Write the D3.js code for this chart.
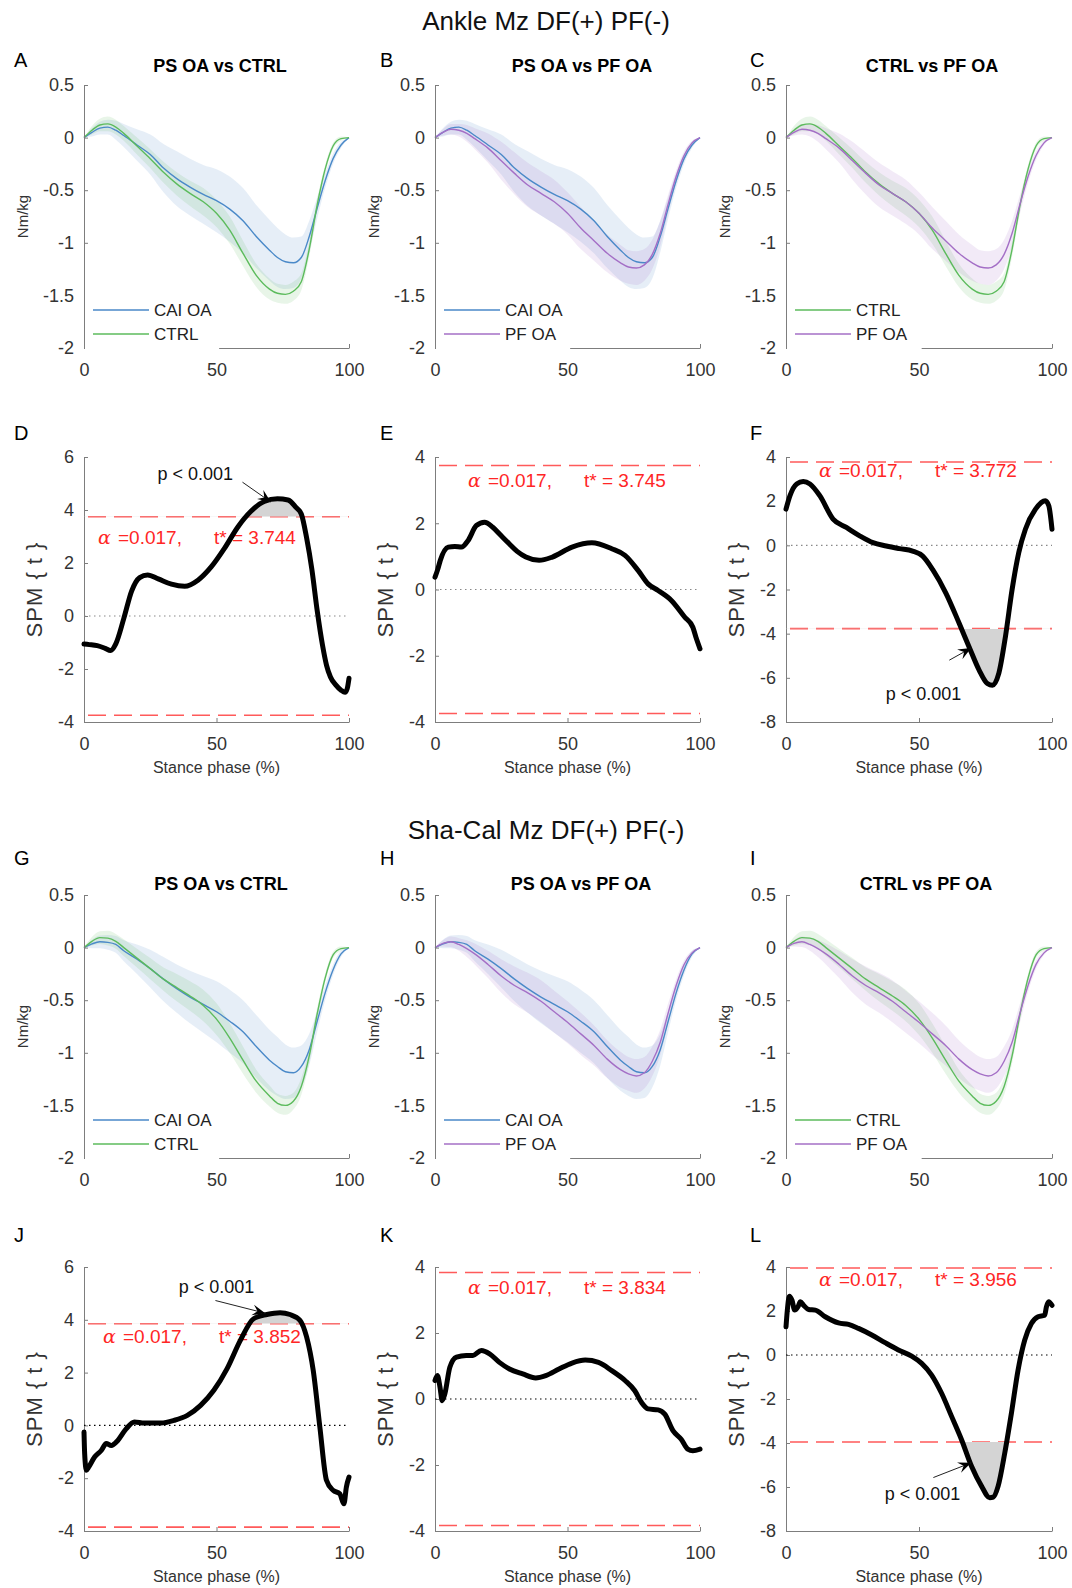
<!DOCTYPE html>
<html><head><meta charset="utf-8">
<script src="https://cdn.jsdelivr.net/npm/d3@7"></script>
<style>
body{margin:0;background:#fff}
svg{display:block}
text{font-family:"Liberation Sans",Arial,Helvetica,sans-serif}
</style>
</head><body>
<svg id="chart" width="1072" height="1588"></svg>
<script>
// ---------- DATA ----------
const sectionTitles = ["Ankle Mz DF(+) PF(-)", "Sha-Cal Mz DF(+) PF(-)"];
const phase = [0,3,6,9,12,15,20,25,30,35,40,45,50,55,60,65,70,73,76,79,82,85,88,91,94,97,100];

const ankleCAI   = [0,0.05,0.09,0.10,0.07,0.02,-0.07,-0.16,-0.29,-0.39,-0.47,-0.54,-0.60,-0.68,-0.79,-0.94,-1.07,-1.14,-1.18,-1.19,-1.14,-0.94,-0.67,-0.41,-0.20,-0.07,0];
const ankleCAIsd = [0,0.04,0.06,0.07,0.09,0.11,0.15,0.19,0.23,0.26,0.27,0.28,0.30,0.31,0.31,0.30,0.29,0.28,0.26,0.24,0.20,0.15,0.10,0.07,0.05,0.03,0];
const ankleCTRL  = [0,0.07,0.12,0.13,0.10,0.04,-0.08,-0.20,-0.33,-0.44,-0.53,-0.61,-0.72,-0.88,-1.10,-1.31,-1.44,-1.48,-1.49,-1.46,-1.37,-1.06,-0.64,-0.30,-0.08,-0.01,0];
const ankleCTRLsd= [0,0.04,0.06,0.07,0.07,0.07,0.08,0.09,0.10,0.11,0.12,0.13,0.13,0.13,0.12,0.11,0.10,0.09,0.09,0.09,0.08,0.07,0.06,0.04,0.03,0.02,0];
const anklePF    = [0,0.05,0.08,0.07,0.04,-0.01,-0.10,-0.22,-0.34,-0.45,-0.53,-0.61,-0.72,-0.86,-0.98,-1.10,-1.19,-1.23,-1.24,-1.21,-1.11,-0.91,-0.63,-0.37,-0.17,-0.05,0];
const anklePFsd  = [0,0.03,0.05,0.06,0.08,0.10,0.14,0.18,0.20,0.21,0.21,0.21,0.20,0.20,0.19,0.18,0.17,0.16,0.16,0.15,0.14,0.12,0.09,0.06,0.04,0.02,0];

const shacalCAI   = [0,0.035,0.055,0.05,0.03,-0.03,-0.11,-0.20,-0.30,-0.39,-0.47,-0.54,-0.61,-0.70,-0.80,-0.94,-1.07,-1.13,-1.18,-1.19,-1.13,-0.97,-0.70,-0.43,-0.21,-0.06,0];
const shacalCAIsd = [0,0.04,0.06,0.07,0.08,0.10,0.14,0.18,0.21,0.23,0.25,0.27,0.29,0.30,0.30,0.30,0.29,0.28,0.26,0.24,0.20,0.15,0.10,0.07,0.05,0.03,0];
const shacalCTRL  = [0,0.06,0.095,0.09,0.06,0.0,-0.10,-0.20,-0.30,-0.38,-0.46,-0.55,-0.68,-0.86,-1.07,-1.27,-1.41,-1.48,-1.50,-1.46,-1.32,-1.03,-0.63,-0.29,-0.07,-0.01,0];
const shacalCTRLsd= [0,0.04,0.06,0.07,0.07,0.08,0.09,0.10,0.11,0.13,0.14,0.15,0.15,0.14,0.13,0.11,0.10,0.09,0.09,0.08,0.08,0.07,0.06,0.04,0.03,0.02,0];
const shacalPF    = [0,0.04,0.055,0.03,-0.01,-0.06,-0.16,-0.27,-0.36,-0.43,-0.51,-0.61,-0.71,-0.82,-0.93,-1.06,-1.16,-1.20,-1.22,-1.19,-1.08,-0.90,-0.62,-0.36,-0.16,-0.05,0];
const shacalPFsd  = [0,0.03,0.05,0.06,0.08,0.10,0.13,0.16,0.18,0.19,0.20,0.20,0.20,0.20,0.19,0.18,0.17,0.16,0.16,0.15,0.14,0.12,0.09,0.06,0.04,0.02,0];

const spmD_x = [0,2,5,8,10,12,15,18,21,24,28,33,38,43,48,53,58,63,68,73,77,80,82,84,86,88,90,91.5,93,95,97,98.5,99.3,100];
const spmD_t = [-1.06,-1.08,-1.12,-1.22,-1.30,-1.05,-0.10,0.95,1.45,1.55,1.40,1.20,1.12,1.35,1.85,2.55,3.35,3.95,4.32,4.42,4.38,4.10,3.85,2.95,1.75,0.20,-1.10,-1.85,-2.30,-2.60,-2.80,-2.88,-2.75,-2.35];
const spmE_x = [0,1,2,5,7.5,10,12.5,15.6,18.7,21.8,25,28,31,34.3,39.3,44.3,51.7,59.2,66.7,71.7,76.7,80.4,84.2,89.2,94.2,97.3,98.5,100];
const spmE_t = [0.37,0.60,0.88,1.28,1.30,1.28,1.48,1.93,2.03,1.88,1.62,1.38,1.15,0.98,0.88,0.98,1.28,1.41,1.23,1.03,0.57,0.17,-0.03,-0.33,-0.83,-1.14,-1.45,-1.79];
const spmF_x = [0,1.5,4,6.5,9,12.7,17.7,22.7,27.7,32.7,37.7,42.6,47.6,51.4,55.1,60.1,65.1,68.8,72.6,75.7,77.6,80,82.5,85,87.5,90,93.8,97.5,98.8,100];
const spmF_t = [1.64,2.25,2.78,2.89,2.78,2.25,1.19,0.81,0.43,0.12,-0.03,-0.15,-0.26,-0.49,-1.09,-2.16,-3.53,-4.59,-5.65,-6.26,-6.34,-5.80,-4.13,-2.00,-0.33,0.73,1.64,2.02,1.79,0.73];
const spmJ_x = [0,0.25,0.9,1.75,4,6.5,8.4,10.3,12.75,15.9,19,22.75,29,34,39,44,49,54,59,64,69,74,77.75,81.5,84,86.5,89,91.5,94,96.5,98.1,99,100];
const spmJ_t = [-0.25,-1.07,-1.70,-1.58,-1.20,-0.95,-0.69,-0.76,-0.57,-0.13,0.13,0.09,0.09,0.19,0.38,0.76,1.33,2.15,3.22,4.04,4.20,4.27,4.20,3.98,3.35,2.08,-0.06,-2.08,-2.46,-2.59,-2.97,-2.34,-1.96];
const spmK_x = [0,0.9,1.9,2.7,3.7,5.6,8.1,11.8,14.3,17.5,20.6,24.3,28.1,33.1,38,41.8,46.8,51.7,56.7,61.7,66.7,71.7,75.4,77.9,80.4,84.2,86.7,89.8,92.9,95.4,97.3,100];
const spmK_t = [0.56,0.71,0.35,-0.05,0.15,0.96,1.27,1.32,1.32,1.47,1.37,1.11,0.91,0.76,0.64,0.71,0.91,1.09,1.18,1.11,0.86,0.56,0.25,-0.10,-0.30,-0.33,-0.46,-0.96,-1.22,-1.52,-1.57,-1.52];
const spmL_x = [0,0.5,1.25,2.25,3.25,4.5,5.4,6.6,8.5,11,14.75,19.75,23.5,27.25,32.25,37.25,42.25,47.25,51,54.75,58.5,62.25,66,69.75,73.5,76.6,77.9,79.75,82.25,84.75,87.25,89.75,92.25,94.75,97.25,97.9,98.75,100];
const spmL_t = [1.28,2.04,2.67,2.49,2.04,2.19,2.42,2.26,2.07,2.04,1.74,1.46,1.39,1.21,0.91,0.56,0.23,-0.05,-0.38,-0.91,-1.74,-2.79,-3.85,-5.06,-5.96,-6.49,-6.46,-5.96,-4.45,-2.64,-0.68,0.68,1.43,1.74,1.81,2.19,2.42,2.26];

const tStars = {D:3.744, E:3.745, F:3.772, J:3.852, K:3.834, L:3.956};
const alphaText = "=0.017,";
const pText = "p < 0.001";
const xTicks = [0,50,100];
const meanYTicks = [-2,-1.5,-1,-0.5,0,0.5];
const spmYTicks6 = [-4,-2,0,2,4,6];
const spmYTicks4 = [-4,-2,0,2,4];
const spmYTicks8 = [-8,-6,-4,-2,0,2,4];

// ---------- STYLE / LAYOUT ----------
const colors = {CAI:"#4a89c8", CTRL:"#5cbb5c", PF:"#a46fc6"};
const bandColors = {CAI:"#3a7cc4", CTRL:"#4caf50", PF:"#9c5fc0"};
const cols = [{x0:84,x1:349,letterX:14},{x0:435,x1:700,letterX:380},{x0:786,x1:1052,letterX:750}];
const rows = [{y0:85,y1:348,letterY:67,titleY:72},{y0:457,y1:722,letterY:440},{y0:895,y1:1158,letterY:865,titleY:890},{y0:1267,y1:1531,letterY:1242}];
const subTitleX = [[220,582,932],[221,581,926]];

const svg = d3.select("#chart");
const defs = svg.append("defs");
defs.append("marker").attr("id","ah").attr("viewBox","-13 -6 14 12")
  .attr("refX",0).attr("refY",0).attr("markerWidth",14).attr("markerHeight",12)
  .attr("markerUnits","userSpaceOnUse").attr("orient","auto")
  .append("path").attr("d","M0,0 L-13,-5.5 L-8,0 L-13,5.5 Z").attr("fill","#000");

// main titles
svg.append("text").attr("x",546).attr("y",30).attr("text-anchor","middle")
  .style("font-size","26px").attr("fill","#111").text(sectionTitles[0]);
svg.append("text").attr("x",546).attr("y",839).attr("text-anchor","middle")
  .style("font-size","26px").attr("fill","#111").text(sectionTitles[1]);

function styleAxis(sel){
  sel.selectAll(".domain").attr("stroke","#7d7d7d").attr("stroke-width",1);
  sel.selectAll(".tick line").attr("stroke","#7d7d7d");
  sel.selectAll(".tick text").attr("fill","#333").style("font-size","18px")
    .style("font-family",'"Liberation Sans",Arial,sans-serif');
}
function drawAxes(g, x, y, yt){
  const r = y.range();
  g.append("g").attr("transform",`translate(0,${r[0]})`)
    .call(d3.axisBottom(x).tickValues(xTicks).tickSize(-4).tickSizeOuter(0).tickPadding(15).tickFormat(d=>String(d)))
    .call(styleAxis);
  g.append("g").attr("transform",`translate(${x.range()[0]},0)`)
    .call(d3.axisLeft(y).tickValues(yt).tickSize(-4).tickSizeOuter(0).tickPadding(10).tickFormat(d=>String(d)))
    .call(styleAxis);
}
function letter(l, c, r){
  svg.append("text").attr("x",cols[c].letterX).attr("y",rows[r].letterY)
    .style("font-size","20px").attr("fill","#000").text(l);
}

// ---------- MEAN PANELS ----------
const meanPanels = [
  {l:"A",row:0,col:0,title:"PS OA vs CTRL",s:[["CAI OA",ankleCAI,ankleCAIsd,"CAI"],["CTRL",ankleCTRL,ankleCTRLsd,"CTRL"]]},
  {l:"B",row:0,col:1,title:"PS OA vs PF OA",s:[["CAI OA",ankleCAI,ankleCAIsd,"CAI"],["PF OA",anklePF,anklePFsd,"PF"]]},
  {l:"C",row:0,col:2,title:"CTRL vs PF OA",s:[["CTRL",ankleCTRL,ankleCTRLsd,"CTRL"],["PF OA",anklePF,anklePFsd,"PF"]]},
  {l:"G",row:2,col:0,title:"PS OA vs CTRL",s:[["CAI OA",shacalCAI,shacalCAIsd,"CAI"],["CTRL",shacalCTRL,shacalCTRLsd,"CTRL"]]},
  {l:"H",row:2,col:1,title:"PS OA vs PF OA",s:[["CAI OA",shacalCAI,shacalCAIsd,"CAI"],["PF OA",shacalPF,shacalPFsd,"PF"]]},
  {l:"I",row:2,col:2,title:"CTRL vs PF OA",s:[["CTRL",shacalCTRL,shacalCTRLsd,"CTRL"],["PF OA",shacalPF,shacalPFsd,"PF"]]}
];

meanPanels.forEach(p=>{
  const c = cols[p.col], r = rows[p.row];
  const x = d3.scaleLinear().domain([0,100]).range([c.x0,c.x1]);
  const y = d3.scaleLinear().domain([-2,0.5]).range([r.y1,r.y0]);
  const g = svg.append("g");
  p.s.forEach(s=>{
    const area = d3.area().x((d,i)=>x(phase[i])).y0((d,i)=>y(s[1][i]-s[2][i])).y1((d,i)=>y(s[1][i]+s[2][i])).curve(d3.curveMonotoneX);
    g.append("path").datum(s[1]).attr("d",area).attr("fill",bandColors[s[3]]).attr("fill-opacity",0.13);
  });
  p.s.forEach(s=>{
    const line = d3.line().x((d,i)=>x(phase[i])).y(d=>y(d)).curve(d3.curveMonotoneX);
    g.append("path").datum(s[1]).attr("d",line).attr("fill","none").attr("stroke",colors[s[3]]).attr("stroke-width",1.4);
  });
  drawAxes(g,x,y,meanYTicks);
  // legend
  g.append("rect").attr("x",c.x0+1).attr("y",r.y1-54).attr("width",x(51)-c.x0-1).attr("height",56).attr("fill","#fff");
  p.s.forEach((s,i)=>{
    const ly = r.y1 - 38 + i*24;
    g.append("line").attr("x1",c.x0+9).attr("x2",c.x0+65).attr("y1",ly).attr("y2",ly)
      .attr("stroke",colors[s[3]]).attr("stroke-width",1.6);
    g.append("text").attr("x",c.x0+70).attr("y",ly).attr("dy","0.36em")
      .style("font-size","17px").attr("fill","#222").text(s[0]);
  });
  g.append("text").attr("transform",`translate(${c.x0-56},${(r.y0+r.y1)/2}) rotate(-90)`)
    .attr("text-anchor","middle").style("font-size","15px").attr("fill","#333").text("Nm/kg");
  g.append("text").attr("x",subTitleX[p.row===0?0:1][p.col]).attr("y",r.titleY).attr("text-anchor","middle")
    .style("font-size","18px").style("font-weight","bold").attr("fill","#000").text(p.title);
  letter(p.l,p.col,p.row);
});

// ---------- SPM PANELS ----------
const spmPanels = [
  {l:"D",row:1,col:0,xs:spmD_x,ts:spmD_t,dom:[-4,6],yt:spmYTicks6,cl:1,lx:14,ly:27,zc:"#888",
   ann:{t:[42,5.15],a:[59.8,5.05],b:[70.5,4.3]}},
  {l:"E",row:1,col:1,xs:spmE_x,ts:spmE_t,dom:[-4,4],yt:spmYTicks4,cl:0,lx:33,ly:22,zc:"#888"},
  {l:"F",row:1,col:2,xs:spmF_x,ts:spmF_t,dom:[-8,4],yt:spmYTicks8,cl:-1,lx:33,ly:15,zc:"#888",
   ann:{t:[51.7,-7.0],a:[61.4,-5.2],b:[69.6,-4.65]}},
  {l:"J",row:3,col:0,xs:spmJ_x,ts:spmJ_t,dom:[-4,6],yt:spmYTicks6,cl:1,lx:19,ly:19,zc:"#000",
   ann:{t:[50,5.0],a:[49.6,4.73],b:[68.4,4.25]}},
  {l:"K",row:3,col:1,xs:spmK_x,ts:spmK_t,dom:[-4,4],yt:spmYTicks4,cl:0,lx:33,ly:22,zc:"#000"},
  {l:"L",row:3,col:2,xs:spmL_x,ts:spmL_t,dom:[-8,4],yt:spmYTicks8,cl:-1,lx:33,ly:18,zc:"#000",
   ann:{t:[51.3,-6.6],a:[55.4,-5.57],b:[69.6,-4.9]}}
];

spmPanels.forEach(p=>{
  const c = cols[p.col], r = rows[p.row];
  const ts = tStars[p.l];
  const x = d3.scaleLinear().domain([0,100]).range([c.x0,c.x1]);
  const y = d3.scaleLinear().domain(p.dom).range([r.y1,r.y0]);
  const g = svg.append("g");
  drawAxes(g,x,y,p.yt);
  g.append("line").attr("x1",x(0)).attr("x2",x(100)).attr("y1",y(0)).attr("y2",y(0))
    .attr("stroke",p.zc).attr("stroke-width",1.1).attr("stroke-dasharray","1.5,3.5");
  [ts,-ts].forEach(v=>{
    g.append("line").attr("x1",x(0)).attr("x2",x(100)).attr("y1",y(v)).attr("y2",y(v))
      .attr("stroke","#ff5a5a").attr("stroke-width",1.6).attr("stroke-dasharray","18,8")
      .attr("stroke-dashoffset",-4);
  });
  const tx = g.append("text").attr("x",c.x0+p.lx).attr("y",y(ts)+p.ly).attr("fill","#ff2626").style("font-size","19px");
  tx.append("tspan").style("font-family",'"DejaVu Serif","Liberation Serif",serif').style("font-style","italic").text("α");
  tx.append("tspan").attr("x",c.x0+p.lx+20).text(alphaText);
  tx.append("tspan").attr("x",c.x0+p.lx+116).text("t* = "+ts.toFixed(3));
  if(p.cl!==0){
    const id = "clip"+p.l;
    const thr = p.cl*ts;
    const top = p.cl>0 ? r.y0-10 : y(thr);
    const bot = p.cl>0 ? y(thr) : r.y1+10;
    defs.append("clipPath").attr("id",id).append("rect")
      .attr("x",x(0)).attr("y",top).attr("width",x(100)-x(0)).attr("height",bot-top);
    const area = d3.area().x((d,i)=>x(p.xs[i])).y0(y(thr)).y1(d=>y(d)).curve(d3.curveMonotoneX);
    g.append("path").datum(p.ts).attr("d",area).attr("fill","#d4d4d4").attr("clip-path",`url(#${id})`);
  }
  const line = d3.line().x((d,i)=>x(p.xs[i])).y(d=>y(d)).curve(d3.curveMonotoneX);
  g.append("path").datum(p.ts).attr("d",line).attr("fill","none").attr("stroke","#000")
    .attr("stroke-width",5).attr("stroke-linejoin","round").attr("stroke-linecap","round");
  if(p.ann){
    g.append("text").attr("x",x(p.ann.t[0])).attr("y",y(p.ann.t[1])).attr("text-anchor","middle")
      .style("font-size","18px").attr("fill","#111").text(pText);
    g.append("line").attr("x1",x(p.ann.a[0])).attr("y1",y(p.ann.a[1]))
      .attr("x2",x(p.ann.b[0])).attr("y2",y(p.ann.b[1]))
      .attr("stroke","#222").attr("stroke-width",1).attr("marker-end","url(#ah)");
  }
  g.append("text").attr("transform",`translate(${c.x0-42},${(r.y0+r.y1)/2}) rotate(-90)`)
    .attr("text-anchor","middle").style("font-size","22px").style("letter-spacing","1px").attr("fill","#333").text("SPM { t }");
  g.append("text").attr("x",(c.x0+c.x1)/2).attr("y",r.y1+51).attr("text-anchor","middle")
    .style("font-size","16px").attr("fill","#333").text("Stance phase (%)");
  letter(p.l,p.col,p.row);
});
</script>
</body></html>
